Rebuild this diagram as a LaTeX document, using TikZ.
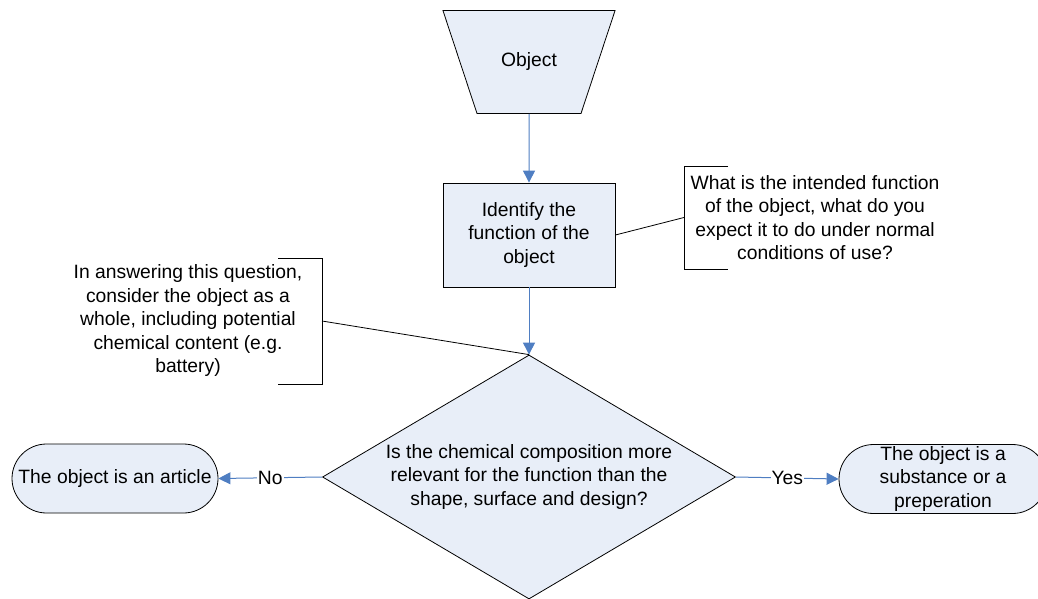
\documentclass[tikz,border=0pt]{standalone}
\usepackage{fontspec}
\setmainfont{Liberation Sans}
\usetikzlibrary{shapes.geometric,shapes.misc,arrows.meta}
\definecolor{boxfill}{HTML}{E8EEF8}
\definecolor{flowblue}{HTML}{4F7EC2}

\begin{document}
\begin{tikzpicture}[x=1pt,y=-1pt]
    \tikzstyle{every node}=[font={\fontsize{19.3}{23.5}\selectfont}, align=center]
    \tikzstyle{shp}=[draw=black, fill=boxfill, line width=0.8pt, inner sep=0pt]
    \tikzstyle{flow}=[draw=flowblue, line width=1pt, -{Triangle[width=12pt,length=12pt]}]
    \tikzstyle{note}=[draw=black, line width=0.8pt]
    \tikzstyle{answer}=[fill=white, inner sep=1pt]
    \useasboundingbox (0,0) rectangle (1038,599);

    % flow chart
    \node[shp, trapezium, shape border rotate=180, trapezium angle=71.7,
        text width=56, text height=14, text depth=4, inner xsep=24, inner ysep=42.5] (object) at (529,62) {Object};
    \node[shp, rectangle, minimum width=172, minimum height=104] (identify) at (529,235)
        {Identify the\\function of the\\object};
    \node[shp, diamond, aspect=1.69, minimum width=413, minimum height=244] (question) at (529,477)
        {Is the chemical composition more\\relevant for the function than the\\shape, surface and design?};
    \node[shp, rounded rectangle, minimum width=206, minimum height=69] (article) at (115,478.5)
        {The object is an article};
    \node[shp, rounded rectangle, minimum width=208, minimum height=69] (substance) at (943,479)
        {The object is a\\substance or a\\preperation};

    \draw[flow] (object.south) -- (identify.north);
    \draw[flow] (identify.south) -- (question.north);
    \draw[flow] (question.west) -- node[answer] {No} (article.east);
    \draw[flow] (question.east) -- node[answer] {Yes} (substance.west);

    % comments
    \node (notefunction) at (815,217.5) {What is the intended function\\of the object, what do you\\expect it to do under normal\\conditions of use?};
    \coordinate (functionbrk) at (684,217.5);
    \draw[note] (728,166) -- (684,166) -- (684,269) -- (728,269);
    \draw[note] (identify.east) -- (functionbrk);

    \node (notewhole) at (188,321) {In answering this question,\\consider the object as a\\whole, including potential\\chemical content (e.g.\\battery)};
    \coordinate (wholebrk) at (322,321);
    \draw[note] (278,258) -- (322,258) -- (322,384) -- (278,384);
    \draw[note] (wholebrk) -- (question.north);
\end{tikzpicture}
\end{document}
